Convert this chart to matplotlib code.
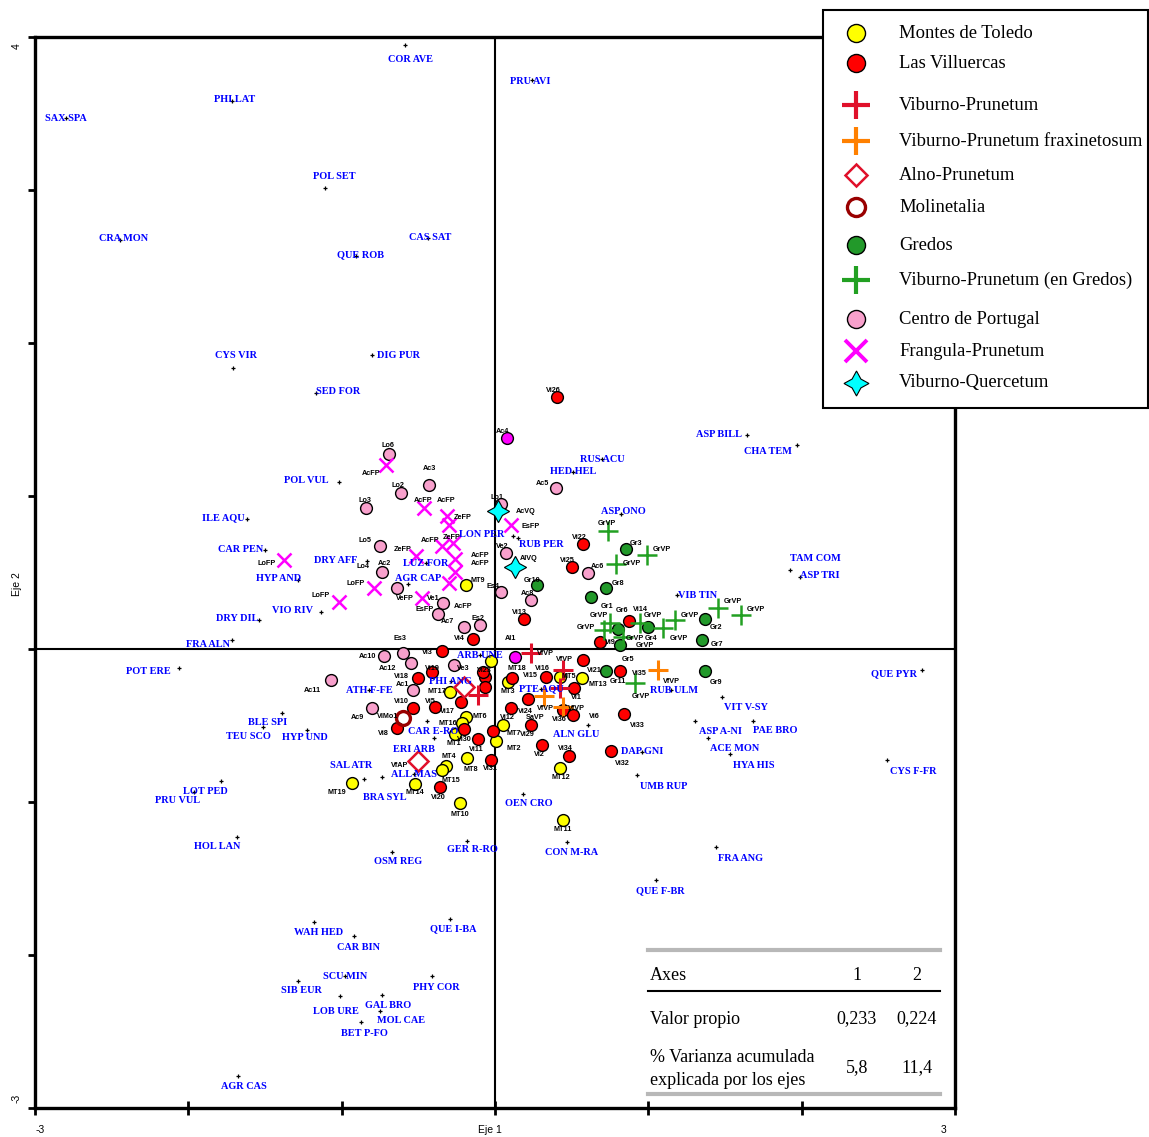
"""CCA-style ordination biplot (Eje 1 / Eje 2): relevés by region + species labels."""

import matplotlib

matplotlib.use("Agg")
import matplotlib.pyplot as plt
from matplotlib.patches import Rectangle

# ---------------------------------------------------------------- data (axis units)
# Montes de Toledo
MT_X = [-0.189, -0.026, 0.085, 0.424, 0.568, 0.052, 0.007, 0.424, 0.444, -0.294, -0.189,
        -0.215, -0.261, -0.183, -0.320, -0.346, -0.522, -0.933, -0.228]
MT_Y = [0.418, -0.078, -0.216, -0.183, -0.190, -0.497, -0.601, -0.778, -1.118, -0.281, -0.444,
        -0.484, -0.556, -0.712, -0.765, -0.791, -0.882, -0.876, -1.007]
# Las Villuercas
VI_X = [0.404, 0.574, 0.502, 0.189, -0.144, 0.874, 0.685, 0.574, 0.333, 0.111, 0.815, 0.515,
        0.215, 0.444, 0.509, 0.104, 0.235, -0.013, 0.307, 0.483, 0.841, 0.757, -0.026, -0.065,
        -0.065, -0.346, -0.411, -0.502, -0.222, -0.535, -0.391, -0.639, -0.202, -0.111, -0.359,
        -0.078]
VI_Y = [1.647, 0.686, 0.536, 0.196, 0.065, 0.183, 0.046, -0.072, -0.183, -0.190, -0.144, -0.255,
        -0.327, -0.399, -0.431, -0.386, -0.497, -0.536, -0.627, -0.699, -0.425, -0.667, -0.725,
        -0.183, -0.248, -0.013, -0.150, -0.190, -0.346, -0.386, -0.379, -0.516, -0.523, -0.588,
        -0.902, -0.150]
# Viburno-Prunetum
VP_X = [0.235, 0.444, 0.424, -0.111]
VP_Y = [-0.026, -0.137, -0.255, -0.301]
# Viburno-Prunetum fraxinetosum
VPF_X = [1.063, 0.320, 0.444]
VPF_Y = [-0.137, -0.307, -0.379]
# Alno-Prunetum
AP_X = [-0.202, -0.502]
AP_Y = [-0.248, -0.732]
# Molinetalia
MO_X = [-0.600]
MO_Y = [-0.451]
# Gredos
GR_X = [0.855, 0.274, 0.724, 0.626, 0.802, 0.998, 1.370, 1.350, 0.815, 0.724, 1.370]
GR_Y = [0.654, 0.418, 0.399, 0.340, 0.131, 0.144, 0.196, 0.059, 0.026, -0.144, -0.144]
# Viburno-Prunetum (en Gredos)
GVP_X = [0.737, 0.992, 0.789, 0.750, 0.711, 0.946, 1.096, 1.174, 1.455, 1.605, 0.835, 0.913]
GVP_Y = [0.771, 0.614, 0.556, 0.170, 0.124, 0.170, 0.137, 0.190, 0.268, 0.222, 0.078, -0.222]
# Centro de Portugal
CP_X = [-0.691, -0.431, -0.613, -0.841, -0.750, -0.737, -0.639, -0.339, -0.372, -0.202, -0.098,
        0.039, -0.600, 0.398, 0.039, 0.072, 0.607, 0.235, -0.724, -0.548, -0.267, -0.535,
        -1.070, -0.802]
CP_Y = [1.275, 1.072, 1.020, 0.922, 0.673, 0.503, 0.399, 0.301, 0.229, 0.144, 0.157, 0.373,
        -0.026, 1.052, 0.948, 0.627, 0.497, 0.320, -0.046, -0.092, -0.105, -0.268, -0.203, -0.386]
# Centro de Portugal relevés drawn in magenta
CPM_X = [0.078, 0.130]
CPM_Y = [1.379, -0.052]
# Frangula-Prunetum
FP_X = [-0.711, -0.463, -0.313, -0.300, -0.346, -0.274, -0.515, -0.261, -0.261, -0.300, -0.789,
        -1.018, -1.376, -0.476, 0.104]
FP_Y = [1.203, 0.922, 0.869, 0.810, 0.673, 0.693, 0.608, 0.588, 0.503, 0.431, 0.399, 0.307,
        0.582, 0.333, 0.810]
# Viburno-Quercetum
VQ_X = [0.020, 0.130]
VQ_Y = [0.902, 0.536]

# relevé codes
REL_NAMES = ["Lo6", "AcFP", "Ac3", "Lo2", "AcFP", "AcFP", "Lo3", "ZeFP", "Lo5", "AcFP", "ZeFP",
             "ZeFP", "LoFP", "Lo4", "Ac2", "AcFP", "AcFP", "LoFP", "MT9", "LoFP", "VeFP", "Ve1",
             "EsFP", "AcFP", "Ac7", "Es2", "Es3", "Vi4", "Vi26", "Ac4", "Ac5", "Lo1", "AcVQ",
             "EsFP", "Ve2", "AlVQ", "Vi22", "Vi25", "Ac6", "Gr3", "GrVP", "GrVP", "GrVP", "Gr10",
             "Es4", "Ac8", "Vi13", "Gr8", "Gr1", "Gr6", "Vi14", "GrVP", "GrVP", "GrVP", "GrVP",
             "GrVP", "GrVP", "GrVP", "GrVP", "GrVP", "Gr4", "Gr2", "Gr7", "Vi9", "Al1", "VfVP",
             "MT18", "VfVP", "Vi16", "Vi15", "MT5", "MT13", "Vi21", "Gr5", "Gr11", "Vi35", "GrVP",
             "Vi1", "VfVP", "Vi24", "VfVP", "Vi36", "Vi6", "Vi12", "SaVP", "Vi29", "MT7", "MT2",
             "Vi2", "Vi34", "Vi33", "Vi32", "MT12", "Vi31", "MT11", "MT3", "VfVP", "Gr9", "Ac10",
             "Ac12", "Vi3", "Ve3", "Vi19", "Vi18", "Ac1", "Ac11", "MT17", "Vi10", "Vi5", "Vi17",
             "Ac9", "VlMo1", "Vi8", "MT6", "MT16", "MT1", "Vi30", "MT4", "Vi11", "MT8", "MT15",
             "Vi20", "MT14", "MT19", "MT10", "VfAP", "Vi23"]
REL_X = [-0.70, -0.81, -0.43, -0.63, -0.47, -0.32, -0.85, -0.21, -0.85, -0.42, -0.28, -0.60,
         -1.49, -0.86, -0.72, -0.10, -0.10, -0.91, -0.11, -1.14, -0.59, -0.40, -0.46, -0.21,
         -0.31, -0.11, -0.62, -0.23, 0.38, 0.05, 0.31, 0.01, 0.20, 0.23, 0.05, 0.22, 0.55, 0.47,
         0.67, 0.92, 0.73, 1.09, 0.89, 0.24, -0.01, 0.21, 0.16, 0.80, 0.73, 0.83, 0.95, 0.68,
         0.59, 1.03, 1.20, 1.27, 1.55, 1.70, 0.91, 0.98, 1.02, 1.44, 1.45, 0.75, 0.10, 0.33,
         0.14, 0.45, 0.31, 0.23, 0.48, 0.67, 0.65, 0.87, 0.80, 0.94, 0.95, 0.53, 0.33, 0.20,
         0.53, 0.42, 0.65, 0.08, 0.26, 0.21, 0.12, 0.12, 0.29, 0.46, 0.93, 0.83, 0.43, -0.03,
         0.44, 0.08, 1.15, 1.44, -0.83, -0.70, -0.44, -0.21, -0.41, -0.61, -0.60, -1.19, -0.38,
         -0.61, -0.42, -0.31, -0.90, -0.70, -0.73, -0.10, -0.31, -0.27, -0.20, -0.30, -0.12,
         -0.16, -0.29, -0.37, -0.52, -1.03, -0.23, -0.62, -0.07]
REL_Y = [1.33, 1.15, 1.18, 1.07, 0.97, 0.97, 0.97, 0.86, 0.71, 0.71, 0.73, 0.65, 0.56, 0.54,
         0.56, 0.61, 0.56, 0.43, 0.45, 0.35, 0.33, 0.33, 0.26, 0.28, 0.18, 0.20, 0.07, 0.07,
         1.69, 1.42, 1.08, 0.99, 0.90, 0.80, 0.67, 0.59, 0.73, 0.58, 0.54, 0.69, 0.82, 0.65,
         0.56, 0.45, 0.41, 0.36, 0.24, 0.43, 0.28, 0.25, 0.26, 0.22, 0.14, 0.22, 0.07, 0.22,
         0.31, 0.26, 0.07, 0.02, 0.07, 0.14, 0.03, 0.04, 0.07, -0.03, -0.13, -0.07, -0.13,
         -0.17, -0.18, -0.23, -0.14, -0.07, -0.21, -0.16, -0.31, -0.32, -0.39, -0.41, -0.39,
         -0.46, -0.44, -0.45, -0.45, -0.56, -0.55, -0.65, -0.69, -0.65, -0.50, -0.75, -0.84,
         -0.78, -1.18, -0.28, -0.21, -0.22, -0.05, -0.13, -0.02, -0.13, -0.13, -0.18, -0.23,
         -0.27, -0.28, -0.34, -0.34, -0.41, -0.45, -0.44, -0.55, -0.44, -0.49, -0.62, -0.59,
         -0.70, -0.66, -0.79, -0.86, -0.97, -0.94, -0.94, -1.08, -0.76, -0.14]

# species: point and label centre
SP_NAMES = ["COR AVE", "PHI LAT", "SAX SPA", "POL SET", "CRA MON", "CAS SAT", "QUE ROB",
            "CYS VIR", "DIG PUR", "SED FOR", "PRU AVI", "ASP BILL", "CHA TEM", "RUS ACU",
            "HED HEL", "POL VUL", "ILE AQU", "ASP ONO", "CAR PEN", "LON PER", "RUB PER",
            "DRY AFF", "LUZ FOR", "HYP AND", "AGR CAP", "TAM COM", "ASP TRI", "VIB TIN",
            "VIO RIV", "DRY DIL", "FRA ALN", "POT ERE", "QUE PYR", "ARB UNE", "PHI ANG",
            "ATH F-FE", "PTE AQU", "RUB ULM", "VIT V-SY", "BLE SPI", "TEU SCO", "HYP UND",
            "ASP A-NI", "PAE BRO", "ALN GLU", "CAR E-RO", "ERI ARB", "ACE MON", "DAP GNI",
            "SAL ATR", "BRA SYL", "HYA HIS", "ALL MAS", "CYS F-FR", "UMB RUP", "LOT PED",
            "PRU VUL", "OEN CRO", "HOL LAN", "GER R-RO", "CON M-RA", "OSM REG", "FRA ANG",
            "QUE F-BR", "WAH HED", "QUE I-BA", "CAR BIN", "SCU MIN", "PHY COR", "SIB EUR",
            "GAL BRO", "LOB URE", "MOL CAE", "BET P-FO", "AGR CAS"]
SP_X = [-0.587, -1.716, -2.80, -1.109, -2.446, -0.437, -0.907, -1.709, -0.802, -1.168, 0.24,
        1.644, 1.970, 0.70, 0.51, -1.018, -1.618, 0.822, -1.500, 0.117, 0.150, -0.835, -0.45,
        -1.285, -0.568, 1.924, 1.990, 1.187, -1.135, -1.539, -1.716, -2.061, 2.785, -0.10,
        -0.29, -0.82, 0.30, 1.15, 1.481, -1.389, -1.513, -1.226, 1.305, 1.683, 0.607, -0.398,
        -0.444, 1.389, 0.96, -0.737, -0.854, 1.533, -0.53, 2.557, 0.926, -1.787, -1.963, 0.183,
        -1.683, -0.183, 0.470, -0.672, 1.442, 1.050, -1.181, -0.294, -0.920, -0.98, -0.411,
        -1.285, -0.737, -1.011, -0.750, -0.874, -1.676]
SP_Y = [3.948, 3.582, 3.47, 3.013, 2.673, 2.686, 2.569, 1.837, 1.922, 1.673, 3.72, 1.399, 1.333,
        1.24, 1.16, 1.092, 0.850, 0.882, 0.647, 0.739, 0.726, 0.575, 0.56, 0.451, 0.425, 0.516,
        0.471, 0.353, 0.242, 0.190, 0.059, -0.124, -0.137, -0.04, -0.21, -0.27, -0.26, -0.27,
        -0.314, -0.418, -0.510, -0.529, -0.471, -0.471, -0.497, -0.582, -0.471, -0.582, -0.67,
        -0.837, -0.850, -0.686, -0.82, -0.725, -0.824, -0.863, -0.935, -0.948, -1.229, -1.255,
        -1.261, -1.327, -1.294, -1.510, -1.784, -1.765, -1.876, -2.14, -2.137, -2.170, -2.261,
        -2.268, -2.366, -2.438, -2.791]
SP_LX = [-0.55, -1.70, -2.80, -1.05, -2.42, -0.42, -0.88, -1.69, -0.63, -1.02, 0.23, 1.46, 1.78,
         0.70, 0.51, -1.23, -1.77, 0.84, -1.66, -0.09, 0.30, -1.04, -0.45, -1.41, -0.50, 2.09,
         2.12, 1.32, -1.32, -1.68, -1.87, -2.26, 2.60, -0.10, -0.29, -0.82, 0.30, 1.17, 1.64,
         -1.48, -1.61, -1.24, 1.47, 1.83, 0.53, -0.40, -0.53, 1.56, 0.96, -0.94, -0.72, 1.69,
         -0.53, 2.73, 1.10, -1.89, -2.07, 0.22, -1.81, -0.15, 0.50, -0.63, 1.60, 1.08, -1.15,
         -0.27, -0.89, -0.98, -0.38, -1.26, -0.70, -1.04, -0.61, -0.85, -1.64]
SP_LY = [3.85, 3.59, 3.47, 3.09, 2.68, 2.69, 2.58, 1.92, 1.92, 1.68, 3.71, 1.40, 1.29, 1.24,
         1.16, 1.10, 0.86, 0.90, 0.65, 0.75, 0.68, 0.58, 0.56, 0.46, 0.46, 0.59, 0.48, 0.35,
         0.25, 0.20, 0.03, -0.15, -0.16, -0.04, -0.21, -0.27, -0.26, -0.27, -0.38, -0.48, -0.57,
         -0.58, -0.54, -0.53, -0.56, -0.54, -0.66, -0.65, -0.67, -0.76, -0.97, -0.76, -0.82,
         -0.80, -0.90, -0.93, -0.99, -1.01, -1.29, -1.31, -1.33, -1.39, -1.37, -1.58, -1.85,
         -1.83, -1.95, -2.14, -2.21, -2.23, -2.33, -2.37, -2.43, -2.51, -2.86]

# eigenvalue table
AXES = ["1", "2"]
EIGEN = ["0,233", "0,224"]
CUM_VAR = ["5,8", "11,4"]

# ---------------------------------------------------------------- styles
CIRC = dict(marker="o", linestyle="none", markeredgecolor="black", markeredgewidth=1.0)
GROUPS = [
    # label, x, y, style, legend marker size
    ("Montes de Toledo", MT_X, MT_Y, dict(CIRC, markerfacecolor="#FFFF00", markersize=8.5), 13),
    ("Las Villuercas", VI_X, VI_Y, dict(CIRC, markerfacecolor="#FF0000", markersize=8.5), 13),
    ("Viburno-Prunetum", VP_X, VP_Y,
     dict(marker="+", linestyle="none", color="#E0102A", markersize=15, markeredgewidth=2.2), 20),
    ("Viburno-Prunetum fraxinetosum", VPF_X, VPF_Y,
     dict(marker="+", linestyle="none", color="#FF8000", markersize=15, markeredgewidth=2.2), 20),
    ("Alno-Prunetum", AP_X, AP_Y,
     dict(marker="D", linestyle="none", markerfacecolor="none", markeredgecolor="#E0102A",
          markersize=10, markeredgewidth=1.8), 11),
    ("Molinetalia", MO_X, MO_Y,
     dict(marker="o", linestyle="none", markerfacecolor="none", markeredgecolor="#990000",
          markersize=10, markeredgewidth=2.4), 13),
    ("Gredos", GR_X, GR_Y, dict(CIRC, markerfacecolor="#22992A", markersize=8.5), 13),
    ("Viburno-Prunetum (en Gredos)", GVP_X, GVP_Y,
     dict(marker="+", linestyle="none", color="#22A022", markersize=15, markeredgewidth=1.8), 20),
    ("Centro de Portugal", CP_X, CP_Y, dict(CIRC, markerfacecolor="#F8A0CC", markersize=8.5), 13),
    ("Frangula-Prunetum", FP_X, FP_Y,
     dict(marker="x", linestyle="none", color="#FF00FF", markersize=10, markeredgewidth=1.8), 16),
    ("Viburno-Quercetum", VQ_X, VQ_Y,
     dict(marker=(4, 1, 0), linestyle="none", markerfacecolor="#00FFFF", markeredgecolor="black",
          markeredgewidth=0.8, markersize=16), 18),
]
LEGEND_Y = [33, 63, 105, 141, 175, 207, 245, 280, 319, 351, 383]  # pixel rows of legend entries

W, H = 1149, 1137
fig = plt.figure(figsize=(W / 100, H / 100), dpi=100)
ax = fig.add_axes([35 / W, 1 - 1108 / H, 920 / W, 1071 / H])
ax.set_xlim(-3, 3)
ax.set_ylim(-3, 4)
for s in ax.spines.values():
    s.set_linewidth(2.4)
ax.set_xticks(range(-3, 4))
ax.set_yticks(range(-3, 5))
ax.tick_params(axis="x", direction="inout", length=10, width=2, labelbottom=False)
ax.tick_params(axis="y", direction="out", length=5, width=2, labelleft=False)
ax.axhline(0, color="black", lw=1.5, zorder=1)
ax.axvline(0, color="black", lw=1.5, zorder=1)

# species
ax.plot(SP_X, SP_Y, linestyle="none", marker="+", color="black", markersize=2.5,
        markeredgewidth=0.9, zorder=2)
for name, x, y in zip(SP_NAMES, SP_LX, SP_LY):
    ax.text(x, y, name, color="#0000FF", fontsize=7.4, fontweight="bold",
            family="Liberation Serif", ha="center", va="center", zorder=6)

# relevés
ax.plot(CPM_X, CPM_Y, **dict(CIRC, markerfacecolor="#FF00FF", markersize=8.5), zorder=3)
for label, xs, ys, style, _ in GROUPS:
    ax.plot(xs, ys, zorder=3, **style)
for name, x, y in zip(REL_NAMES, REL_X, REL_Y):
    ax.text(x, y, name, color="black", fontsize=5.2, fontweight="bold",
            family="Liberation Sans", ha="center", va="center", zorder=5)

# overlay in pixel coordinates for legend, table and axis texts
lax = fig.add_axes([0, 0, 1, 1], zorder=10)
lax.set_xlim(0, W)
lax.set_ylim(H, 0)
lax.axis("off")

lax.add_patch(Rectangle((823, 10), 325, 398, facecolor="white", edgecolor="black", lw=1.5))
for (label, _, _, style, lms), yy in zip(GROUPS, LEGEND_Y):
    st = dict(style)
    st["markersize"] = lms
    if st["marker"] == "+":
        st["markeredgewidth"] = 3
    if st["marker"] == "x":
        st["markeredgewidth"] = 2.8
    lax.plot([856], [yy], **st)
    lax.text(899, yy, label, fontsize=13.4, family="Liberation Serif", va="center", ha="left")

# eigenvalue table
lax.plot([648, 940], [950, 950], color="#B8B8B8", lw=3)
lax.plot([648, 940], [1094, 1094], color="#B8B8B8", lw=3)
lax.plot([648, 940], [991, 991], color="black", lw=1.5)
tkw = dict(fontsize=13, family="Liberation Serif", va="center")
lax.text(650, 976, "Axes", ha="left", **tkw)
lax.text(650, 1019, "Valor propio", ha="left", **tkw)
lax.text(650, 1069, "% Varianza acumulada\nexplicada por los ejes", ha="left",
         linespacing=1.4, **tkw)
for col, a, e, v in zip([857, 917], AXES, EIGEN, CUM_VAR):
    lax.text(col, 976, a, ha="center", **tkw)
    lax.text(col, 1019, e, ha="center", **tkw)
    lax.text(col, 1068, v, ha="center", **tkw)

# axis texts
akw = dict(fontsize=7.5, family="Liberation Sans", ha="center", va="center")
lax.text(40, 1130, "-3", **akw)
lax.text(490, 1130, "Eje 1", **akw)
lax.text(944, 1130, "3", **akw)
lax.text(17, 46, "4", rotation=90, **akw)
lax.text(17, 584, "Eje 2", rotation=90, **akw)
lax.text(17, 1098, "-3", rotation=90, **akw)

fig.savefig("out.png", dpi=100)
